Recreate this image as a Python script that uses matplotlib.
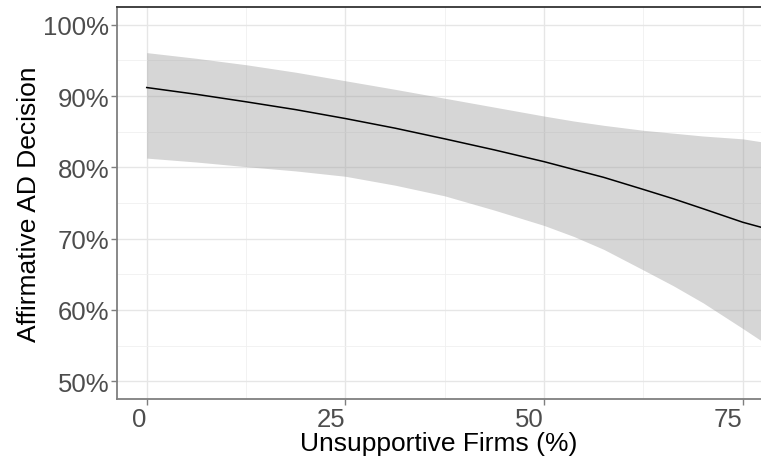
import matplotlib
matplotlib.use("Agg")
import matplotlib.pyplot as plt
from matplotlib.ticker import FixedLocator, FuncFormatter

plt.rcParams['font.family'] = ['Liberation Sans', 'DejaVu Sans']

# Data
x_vals = [0, 6.25, 12.5, 18.75, 25, 31.25, 37.5, 43.75, 50, 53.75, 57.5, 62.5, 66.25, 70, 75, 77.3]
fit = [91.2, 90.25, 89.2, 88.1, 86.85, 85.5, 84.0, 82.45, 80.8, 79.7, 78.6, 76.9, 75.6, 74.2, 72.3, 71.6]
upper = [96.1, 95.3, 94.4, 93.35, 92.15, 90.95, 89.7, 88.45, 87.2, 86.5, 85.9, 85.2, 84.8, 84.4, 84.0, 83.6]
lower = [81.3, 80.75, 80.1, 79.5, 78.75, 77.5, 76.0, 74.0, 71.85, 70.3, 68.5, 65.6, 63.4, 61.0, 57.4, 55.7]

x_ticks = [0, 25, 50, 75]
y_ticks = [50, 60, 70, 80, 90, 100]

fig = plt.figure(figsize=(7.61, 4.60), dpi=100)
ax = fig.add_axes([117/761, 60/460, 1 - 117/761, (400-8)/460])

ax.fill_between(x_vals, lower, upper, color='#999999', alpha=0.4, linewidth=0, zorder=2)
ax.plot(x_vals, fit, color='black', linewidth=1.1, zorder=3)

ax.set_xlim(-3.74, 77.3)
ax.set_ylim(47.5, 102.5)

ax.xaxis.set_major_locator(FixedLocator(x_ticks))
ax.xaxis.set_minor_locator(FixedLocator([12.5, 37.5, 62.5]))
ax.yaxis.set_major_locator(FixedLocator(y_ticks))
ax.yaxis.set_minor_locator(FixedLocator([55, 65, 75, 85, 95]))
ax.yaxis.set_major_formatter(FuncFormatter(lambda v, p: f"{int(round(v))}%"))

ax.grid(True, which='major', color='#E6E6E6', linewidth=1.0, zorder=0)
ax.grid(True, which='minor', color='#F0F0F0', linewidth=0.6, zorder=0)
ax.set_axisbelow(True)

ax.spines['right'].set_visible(False)
ax.spines['top'].set_color('#333333')
ax.spines['top'].set_linewidth(1.3)
for s in ['left', 'bottom']:
    ax.spines[s].set_color('#7F7F7F')
    ax.spines[s].set_linewidth(1.3)

ax.tick_params(which='major', direction='out', length=4, width=1.0, color='#7F7F7F',
               labelsize=18.5, labelcolor='#4D4D4D', pad=1.5)
ax.tick_params(which='minor', length=0)
for lab in ax.get_xticklabels():
    lab.set_horizontalalignment('right')

ax.set_xlabel('Unsupportive Firms (%)', fontsize=19, color='black', labelpad=0)
ax.set_ylabel('Affirmative AD Decision', fontsize=19, color='black', labelpad=2)

fig.savefig('out.png', dpi=100)
